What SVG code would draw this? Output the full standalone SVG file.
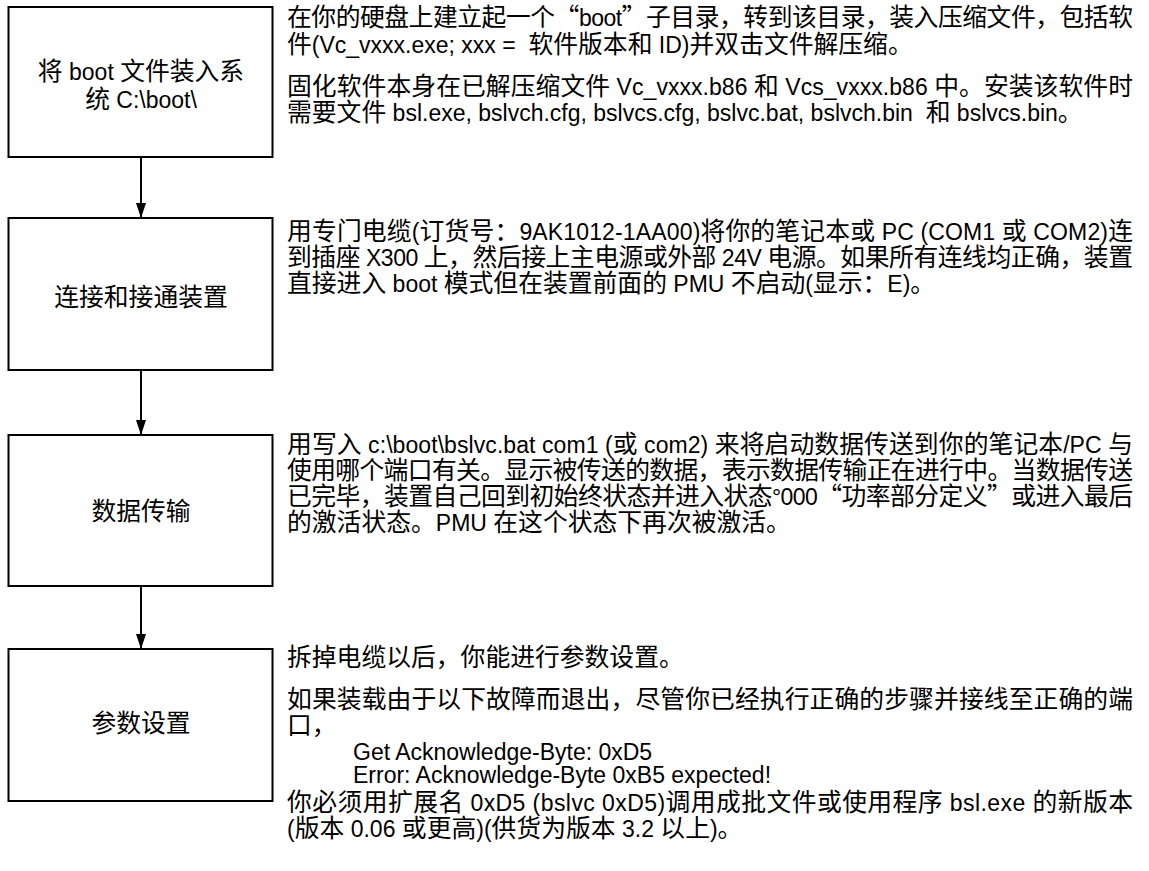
<svg xmlns="http://www.w3.org/2000/svg" width="1149" height="871" viewBox="0 0 1149 871">
<defs>
<style>
text{font-family:"Liberation Sans","Noto Sans CJK SC",sans-serif;font-size:24.8px;fill:#000}
.l{font-size:23px}
.cj{font-family:"Noto Sans CJK SC",sans-serif}
.box{fill:#fff;stroke:#000;stroke-width:2}
.conn{stroke:#000;stroke-width:2;fill:none}
.lbl{text-anchor:middle}
</style>
<marker id="arr" viewBox="0 0 15 10" refX="15" refY="5" markerWidth="15" markerHeight="10" markerUnits="userSpaceOnUse" orient="auto">
<path d="M0,0 L15,5 L0,10 z" fill="#000"/>
</marker>
</defs>
<rect width="1149" height="871" fill="#fff"/>
<g id="connectors">
<line class="conn" x1="141" y1="157" x2="141" y2="218" marker-end="url(#arr)"/>
<line class="conn" x1="141" y1="370" x2="141" y2="435" marker-end="url(#arr)"/>
<line class="conn" x1="141" y1="586" x2="141" y2="649" marker-end="url(#arr)"/>
</g>
<g id="node1">
<rect class="box" x="8.5" y="7" width="264" height="150"/>
<text class="lbl" x="141" y="80">将<tspan class="l"> boot </tspan>文件装入系</text>
<text class="lbl" x="141" y="108">统<tspan class="l"> C:\boot\</tspan></text>
</g>
<g id="node2">
<rect class="box" x="8.5" y="218" width="264" height="152"/>
<text class="lbl" x="141" y="306">连接和接通装置</text>
</g>
<g id="node3">
<rect class="box" x="8.5" y="435" width="264" height="151"/>
<text class="lbl" x="141" y="520">数据传输</text>
</g>
<g id="node4">
<rect class="box" x="8.5" y="649" width="264" height="152"/>
<text class="lbl" x="141" y="732">参数设置</text>
</g>
<g id="desc1">
<text x="287" y="26" textLength="846" lengthAdjust="spacing">在你的硬盘上建立起一个<tspan class="cj">“</tspan><tspan class="l">boot</tspan><tspan class="cj">”</tspan>子目录，转到该目录，装入压缩文件，包括软</text>
<text x="287" y="53" xml:space="preserve">件<tspan class="l">(Vc_vxxx.exe; xxx =  </tspan>软件版本和<tspan class="l"> ID)</tspan>并双击文件解压缩。</text>
<text x="287" y="95" textLength="846" lengthAdjust="spacing">固化软件本身在已解压缩文件<tspan class="l"> Vc_vxxx.b86 </tspan>和<tspan class="l"> Vcs_vxxx.b86 </tspan>中。安装该软件时</text>
<text x="287" y="121" xml:space="preserve">需要文件<tspan class="l"> bsl.exe, bslvch.cfg, bslvcs.cfg, bslvc.bat, bslvch.bin  </tspan>和<tspan class="l"> bslvcs.bin</tspan>。</text>
</g>
<g id="desc2">
<text x="287" y="240" textLength="846" lengthAdjust="spacing">用专门电缆<tspan class="l">(</tspan>订货号：<tspan class="l">9AK1012-1AA00)</tspan>将你的笔记本或<tspan class="l"> PC (COM1 </tspan>或<tspan class="l"> COM2)</tspan>连</text>
<text x="287" y="266" textLength="846" lengthAdjust="spacing">到插座<tspan class="l"> X300 </tspan>上，然后接上主电源或外部<tspan class="l"> 24V </tspan>电源。如果所有连线均正确，装置</text>
<text x="287" y="292">直接进入<tspan class="l"> boot </tspan>模式但在装置前面的<tspan class="l"> PMU </tspan>不启动<tspan class="l">(</tspan>显示：<tspan class="l">E)</tspan>。</text>
</g>
<g id="desc3">
<text x="287" y="453" textLength="846" lengthAdjust="spacing">用写入<tspan class="l"> c:\boot\bslvc.bat com1 (</tspan>或<tspan class="l"> com2) </tspan>来将启动数据传送到你的笔记本<tspan class="l">/PC </tspan>与</text>
<text x="287" y="479" textLength="846" lengthAdjust="spacing">使用哪个端口有关。显示被传送的数据，表示数据传输正在进行中。当数据传送</text>
<text x="287" y="505" textLength="846" lengthAdjust="spacing">已完毕，装置自己回到初始终状态并进入状态<tspan class="l">°000</tspan><tspan class="cj">“</tspan>功率部分定义<tspan class="cj">”</tspan>或进入最后</text>
<text x="287" y="531">的激活状态。<tspan class="l">PMU </tspan>在这个状态下再次被激活。</text>
</g>
<g id="desc4">
<text x="287" y="666">拆掉电缆以后，你能进行参数设置。</text>
<text x="287" y="708" textLength="846" lengthAdjust="spacing">如果装载由于以下故障而退出，尽管你已经执行正确的步骤并接线至正确的端</text>
<text x="287" y="734">口，</text>
<text class="l" x="353" y="760">Get Acknowledge-Byte: 0xD5</text>
<text class="l" x="353" y="783">Error: Acknowledge-Byte 0xB5 expected!</text>
<text x="287" y="811" textLength="846" lengthAdjust="spacing">你必须用扩展名<tspan class="l"> 0xD5 (bslvc 0xD5)</tspan>调用成批文件或使用程序<tspan class="l"> bsl.exe </tspan>的新版本</text>
<text x="287" y="837"><tspan class="l">(</tspan>版本<tspan class="l"> 0.06 </tspan>或更高<tspan class="l">)(</tspan>供货为版本<tspan class="l"> 3.2 </tspan>以上<tspan class="l">)</tspan>。</text>
</g>
</svg>
